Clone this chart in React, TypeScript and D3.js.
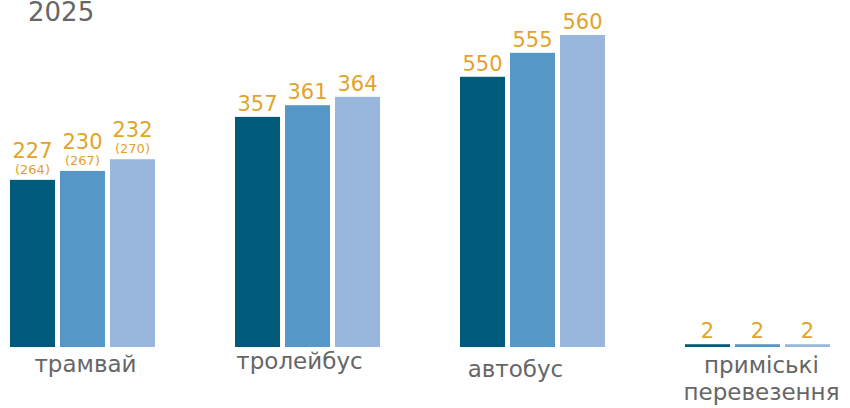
import * as d3 from 'd3';
import React from 'react';

// data
const categories = ['трамвай', 'тролейбус', 'автобус', 'приміські перевезення'];
const series = ['a', 'b', 'c'];
const seriesColors = ['#005a7a', '#5598c8', '#99b6dd'];

// numbers printed above the bars
const tram = [227, 230, 232];
const trolley = [357, 361, 364];
const bus = [550, 555, 560];
const suburban = [2, 2, 2];
const tramExtra = [264, 267, 270];

// the infographic does not draw bars proportional to the printed numbers,
// so these are the plotted levels (same units, 560 = tallest)
const tramLevels = [300, 316, 337];
const trolleyLevels = [413, 434, 449];
const busLevels = [485, 528, 560];
const suburbanLevels = [5, 5, 5];

const labels = [tram, trolley, bus, suburban];
const levels = [tramLevels, trolleyLevels, busLevels, suburbanLevels];
const extras = [tramExtra, null, null, null];

const W = 850;
const H = 408;
const font = 'DejaVu Sans, sans-serif';
const orange = '#e2a32b';
const gray = '#666666';

// small nudges of the category captions, as laid out in the original
const capDx = [3, -8, -17, 4];
const capY = [372, 369, 377, 373];

export default function App() {
  const x0 = d3.scaleBand<string>().domain(categories).range([10, 830]).paddingInner(0.3556).paddingOuter(0);
  const x1 = d3.scaleBand<string>().domain(series).range([0, x0.bandwidth()]).paddingInner(0.1);
  const y = d3.scaleLinear().domain([0, 560]).range([347, 35]);

  return (
    <svg width={W} height={H} style={{ position: 'absolute', left: 0, top: 0 }} fontFamily={font}>
      <text x={28} y={21} fontSize={26} fill={gray}>2025</text>
      {categories.map((c, ci) => (
        <g key={c} transform={`translate(${x0(c)},0)`}>
          {series.map((s, si) => {
            const bx = x1(s)!;
            const top = y(levels[ci][si]);
            const cx = bx + x1.bandwidth() / 2;
            const ex = extras[ci];
            return (
              <g key={s}>
                <rect x={bx} y={top} width={x1.bandwidth()} height={y(0) - top} fill={seriesColors[si]} />
                {ex ? (
                  <>
                    <text x={cx} y={top - 22} textAnchor="middle" fontSize={21} fill={orange}>{labels[ci][si]}</text>
                    <text x={cx} y={top - 6} textAnchor="middle" fontSize={13} fill={orange}>({ex[si]})</text>
                  </>
                ) : (
                  <text x={cx} y={top - 6} textAnchor="middle" fontSize={21} fill={orange}>{labels[ci][si]}</text>
                )}
              </g>
            );
          })}
          {c.split(' ').map((line, li) => (
            <text key={li} x={x0.bandwidth() / 2 + capDx[ci]} y={capY[ci] + li * 27} textAnchor="middle" fontSize={23} fill={gray}>
              {line}
            </text>
          ))}
        </g>
      ))}
    </svg>
  );
}
